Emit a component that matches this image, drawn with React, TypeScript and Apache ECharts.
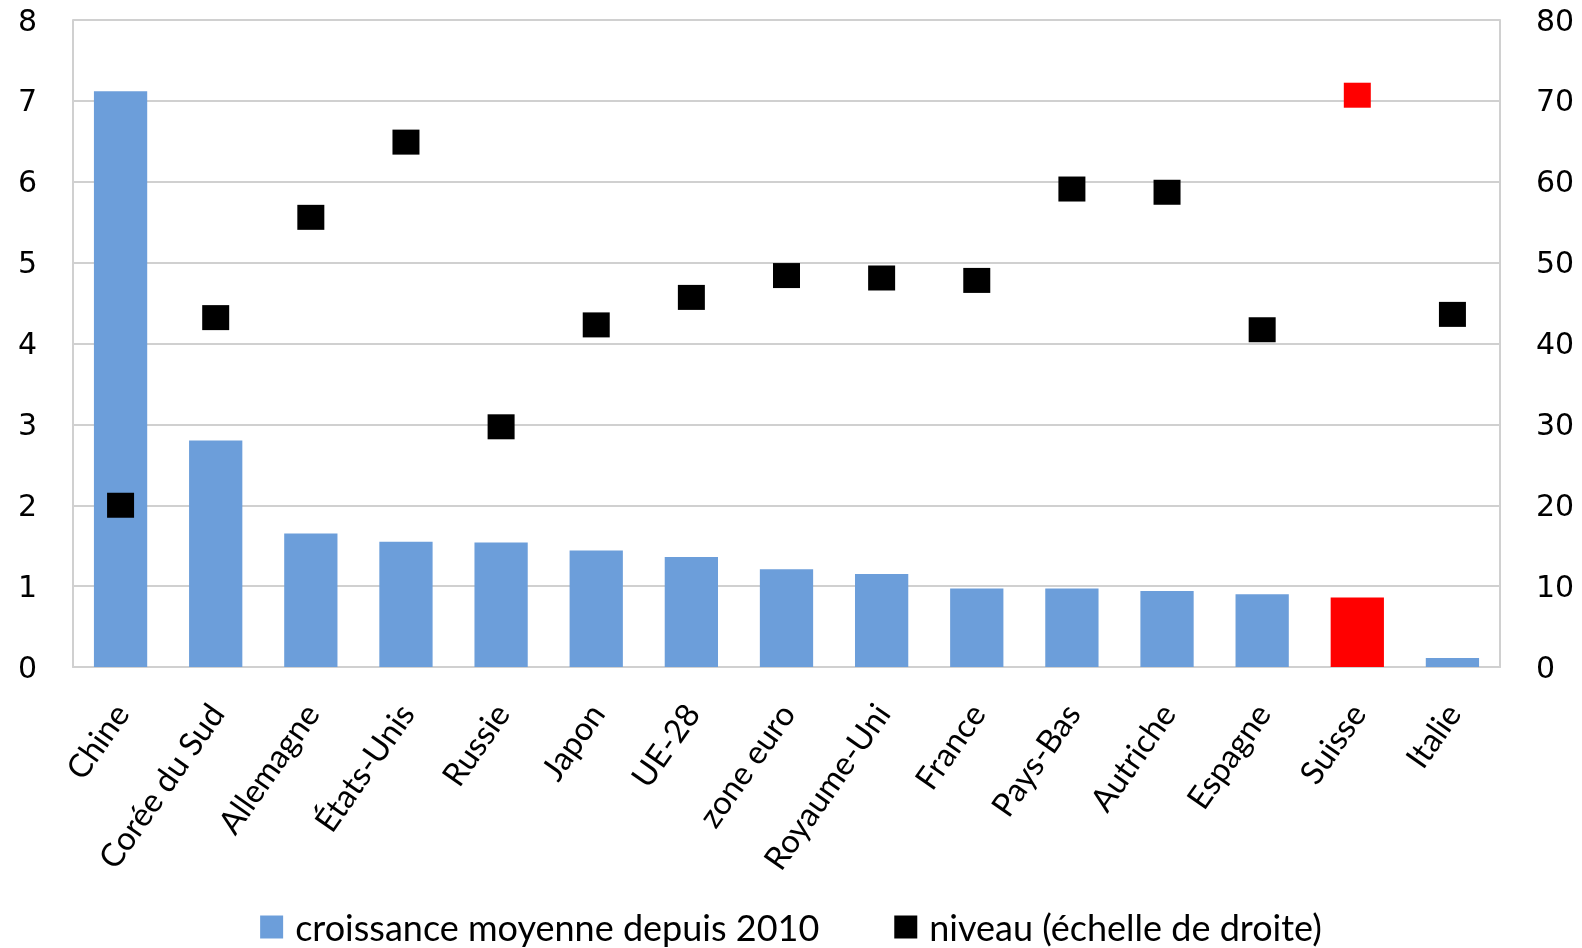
import React, { useEffect, useRef } from "react";
import * as echarts from "echarts";

const categories = [
  "Chine", "Corée du Sud", "Allemagne", "États-Unis", "Russie", "Japon", "UE-28",
  "zone euro", "Royaume-Uni", "France", "Pays-Bas", "Autriche", "Espagne", "Suisse", "Italie",
];
const growthValues = [7.12, 2.8, 1.65, 1.55, 1.54, 1.44, 1.36, 1.21, 1.15, 0.97, 0.97, 0.94, 0.9, 0.86, 0.11];
const levelValues = [20.0, 43.2, 55.6, 64.9, 29.7, 42.3, 45.7, 48.4, 48.1, 47.8, 59.1, 58.7, 41.7, 70.7, 43.6];
const leftTicks = [0, 1, 2, 3, 4, 5, 6, 7, 8];
const rightTicks = [0, 10, 20, 30, 40, 50, 60, 70, 80];
const highlighted = "Suisse";
const growthName = "croissance moyenne depuis 2010";
const levelName = "niveau (échelle de droite)";

const BLUE = "#6C9EDA";
const RED = "#FF0000";
const GRID = "#D0D0D0";
const TICK_FONT = "'DejaVu Sans', sans-serif";
const TEXT_FONT = "Lato, 'Open Sans', sans-serif";

export default function App() {
  const ref = useRef<HTMLDivElement>(null);
  useEffect(() => {
    if (!ref.current) return;
    const chart = echarts.init(ref.current, null, { renderer: "svg" });
    chart.setOption({
      animation: false,
      grid: { left: 73, right: 82, top: 20, bottom: 281, containLabel: false },
      legend: {
        top: 909,
        left: "center",
        padding: 0,
        itemWidth: 23,
        itemHeight: 23,
        itemGap: 75,
        icon: "rect",
        textStyle: {
          fontFamily: TEXT_FONT,
          fontSize: 36,
          lineHeight: 36,
          color: "#000",
          padding: [0, 0, 0, 7],
        },
        data: [
          { name: growthName, itemStyle: { color: BLUE } },
          { name: levelName, itemStyle: { color: "#000" } },
        ],
      },
      xAxis: {
        type: "category",
        data: categories,
        axisLine: { show: true, lineStyle: { color: GRID, width: 2 } },
        axisTick: { show: false },
        axisLabel: {
          rotate: 55,
          interval: 0,
          margin: 40,
          fontFamily: TEXT_FONT,
          fontSize: 32.5,
          color: "#000",
        },
      },
      yAxis: [
        {
          type: "value",
          min: leftTicks[0],
          max: leftTicks[leftTicks.length - 1],
          interval: 1,
          axisLine: { show: true, lineStyle: { color: GRID, width: 2 } },
          axisTick: { show: false },
          splitLine: { show: true, lineStyle: { color: GRID, width: 2 } },
          axisLabel: { fontFamily: TICK_FONT, fontSize: 30, color: "#000", margin: 36 },
        },
        {
          type: "value",
          min: rightTicks[0],
          max: rightTicks[rightTicks.length - 1],
          interval: 10,
          position: "right",
          axisLine: { show: true, lineStyle: { color: GRID, width: 2 } },
          axisTick: { show: false },
          splitLine: { show: false },
          axisLabel: { fontFamily: TICK_FONT, fontSize: 30, color: "#000", margin: 36 },
        },
      ],
      series: [
        {
          name: growthName,
          type: "bar",
          barWidth: "56%",
          yAxisIndex: 0,
          itemStyle: { color: BLUE },
          data: growthValues.map((v, i) => ({
            value: v,
            itemStyle: { color: categories[i] === highlighted ? RED : BLUE },
          })),
        },
        {
          name: levelName,
          type: "scatter",
          yAxisIndex: 1,
          symbol: "rect",
          symbolSize: [27, 25],
          itemStyle: { color: "#000", opacity: 1 },
          z: 5,
          data: levelValues.map((v, i) => ({
            value: v,
            itemStyle: { color: categories[i] === highlighted ? RED : "#000", opacity: 1 },
          })),
        },
      ],
    });
    return () => chart.dispose();
  }, []);
  return (
    <div
      ref={ref}
      style={{ position: "fixed", left: 0, top: 0, width: 1582, height: 948 }}
    />
  );
}
